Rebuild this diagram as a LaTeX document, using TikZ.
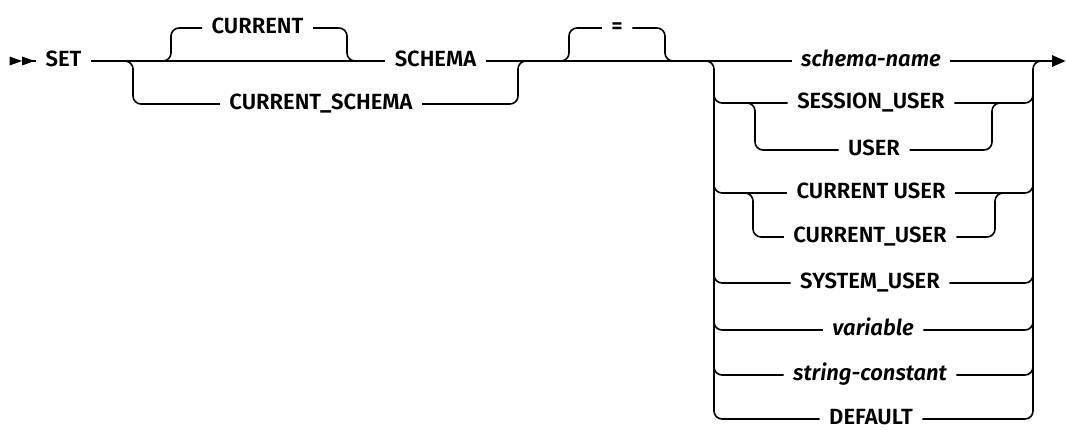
\documentclass[tikz,border=0pt]{standalone}
\usepackage{fontspec}
\setmainfont{Fira Sans}[UprightFont={* SemiBold}, ItalicFont={* SemiBold Italic}]
\usetikzlibrary{arrows.meta,calc}
\begin{document}
\begin{tikzpicture}[x=0.75pt,y=-0.75pt,
  rr/.style={line width=1.2pt,rounded corners=6pt},
  kw/.style={font=\fontsize{16.5}{19}\selectfont,inner xsep=7pt,inner ysep=0pt,text height=11.5pt,text depth=4pt},
  var/.style={kw,font=\fontsize{16.5}{19}\selectfont\itshape}]
\useasboundingbox (0,0) rectangle (1066,429);
% nodes
\node[kw] (set) at (63.5,61) {SET};
\node[kw] (cur) at (257.5,28) {CURRENT};
\node[kw] (schema) at (435.5,61) {SCHEMA};
\node[kw] (cs) at (321,104) {CURRENT\_SCHEMA};
\node[kw] (eq) at (617,28) {=};
\node[var] (r1) at (871,61) {schema-name};
\node[kw] (r2) at (871,103) {SESSION\_USER};
\node[kw] (r3) at (874,150) {USER};
\node[kw] (r4) at (871,193) {CURRENT USER};
\node[kw] (r5) at (870,237) {CURRENT\_USER};
\node[kw] (r6) at (870,283) {SYSTEM\_USER};
\node[var] (r7) at (873,330) {variable};
\node[var] (r8) at (870,375) {string-constant};
\node[kw] (r9) at (871,419) {DEFAULT};
% rail coordinates
\coordinate (start) at (22,61);
\coordinate (endp) at (1065.5,61);
\coordinate (sA) at (171,61);
\coordinate (sB) at (347,61);
\coordinate (sC) at (133,61);
\coordinate (sD) at (518,61);
\coordinate (sE) at (569,61);
\coordinate (sF) at (665,61);
\coordinate (bl) at (714,61);
\coordinate (br) at (1033,61);
\coordinate (il1) at (755,103);
\coordinate (ir1) at (992,103);
\coordinate (il2) at (753,193);
\coordinate (ir2) at (995,193);
% start mark
\fill (9.5,56.5) -- (22,61) -- (9.5,65.5) -- cycle;
\fill (22,56.5) -- (34.5,61) -- (22,65.5) -- cycle;
% main line
\draw[rr] (start) -- (set.west);
\draw[rr] (set.east) -- (schema.west);
\draw[rr] (schema.east) -- (r1.west);
\draw[rr,-{Triangle[length=10pt,width=8.5pt]}] (r1.east) -- (endp);
% CURRENT optional
\draw[rr] ($(sA)+(-14,0)$) -- (sA) |- (cur.west);
\draw[rr] (cur.east) -| (sB) -- ++(14,0);
% CURRENT_SCHEMA alternative
\draw[rr] ($(sC)+(-14,0)$) -- (sC) |- (cs.west);
\draw[rr] (cs.east) -| (sD) -- ++(14,0);
% = optional
\draw[rr] ($(sE)+(-14,0)$) -- (sE) |- (eq.west);
\draw[rr] (eq.east) -| (sF) -- ++(14,0);
% choice block rails
\draw[rr] ($(bl)+(-14,0)$) -- (bl) -- (bl |- r9.west) -- (r9.west);
\draw[rr] (r9.east) -- (br |- r9.east) -- (br) -- ++(14,0);
\foreach \r in {r2,r4,r6,r7,r8}{
  \draw[rr] ($(bl |- \r.west)+(0,-14)$) -- (bl |- \r.west) -- (\r.west);
  \draw[rr] (\r.east) -- (br |- \r.east) -- ++(0,-14);
}
% inner choices
\draw[rr] ($(il1)+(-14,0)$) -- (il1) -- (il1 |- r3.west) -- (r3.west);
\draw[rr] (r3.east) -- (ir1 |- r3.east) -- (ir1) -- ++(14,0);
\draw[rr] ($(il2)+(-14,0)$) -- (il2) -- (il2 |- r5.west) -- (r5.west);
\draw[rr] (r5.east) -- (ir2 |- r5.east) -- (ir2) -- ++(14,0);
\end{tikzpicture}
\end{document}
